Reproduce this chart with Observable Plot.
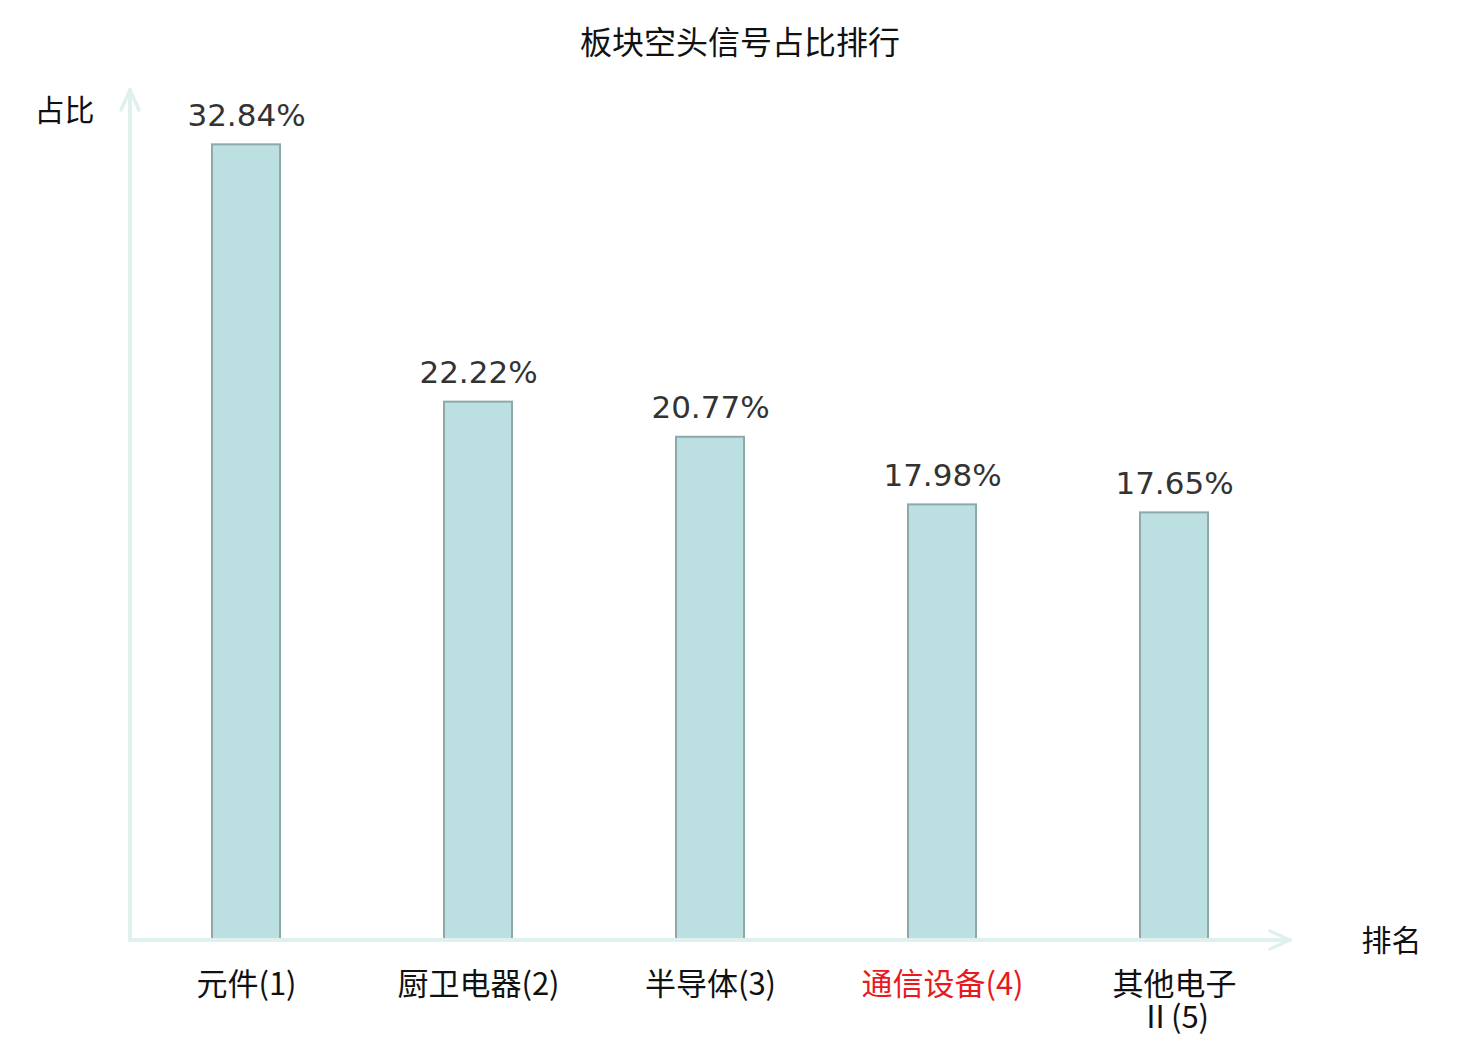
<!DOCTYPE html>
<html>
<head>
<meta charset="utf-8">
<script src="https://cdn.jsdelivr.net/npm/d3@7"></script>
<script src="https://cdn.jsdelivr.net/npm/@observablehq/plot@0.6"></script>
<style>
  html, body { margin: 0; padding: 0; background: #fff; }
  #title { height: 84px; line-height: 80px; text-align: center; font-family: "Noto Sans CJK SC", sans-serif; font-size: 32px; color: #111; }
  #chart svg { display: block; overflow: visible; }
</style>
</head>
<body>
<div id="title">板块空头信号占比排行</div>
<div id="chart"></div>
<script>
const categories = ["元件(1)", "厨卫电器(2)", "半导体(3)", "通信设备(4)", "其他电子\nⅡ(5)"];
const values = [32.84, 22.22, 20.77, 17.98, 17.65];
const highlighted = [false, false, false, true, false];
const yLabel = "占比";
const xLabel = "排名";

const data = categories.map((c, i) => ({ category: c, value: values[i], hl: highlighted[i] }));

const axisColor = "#dff1ef";

function arrowHeads(index, scales, vals, dims) {
  const g = d3.create("svg:g").attr("fill", "none").attr("stroke", axisColor)
    .attr("stroke-width", 3.5).attr("stroke-linecap", "round").attr("stroke-linejoin", "round");
  const x0 = dims.marginLeft, y0 = dims.height - dims.marginBottom;
  const xEnd = dims.width - dims.marginRight, yEnd = dims.marginTop;
  g.append("line").attr("x1", x0).attr("x2", x0).attr("y1", y0).attr("y2", yEnd - 2).attr("stroke-width", 4);
  g.append("line").attr("x1", x0).attr("x2", xEnd).attr("y1", y0).attr("y2", y0).attr("stroke-width", 4);
  g.append("polyline").attr("points", `${x0 - 9},${yEnd + 18} ${x0},${yEnd - 2} ${x0 + 9},${yEnd + 18}`);
  g.append("polyline").attr("points", `${xEnd - 20},${y0 - 9} ${xEnd},${y0} ${xEnd - 20},${y0 + 9}`);
  return g.node();
}

const chart = Plot.plot({
  width: 1480,
  height: 956,
  marginLeft: 130,
  marginRight: 190,
  marginTop: 8,
  marginBottom: 100,
  style: { fontFamily: "'DejaVu Sans', 'Noto Sans CJK SC', sans-serif", overflow: "visible" },
  x: { domain: categories, paddingInner: 0.707, paddingOuter: 0.3535, axis: null },
  y: { domain: [0, 35], axis: null },
  marks: [
    Plot.barY(data, { x: "category", y: "value", fill: "#bce0e2", stroke: "#8da9a9", strokeWidth: 2 }),
    Plot.text(data, { x: "category", y: "value", text: d => d.value.toFixed(2) + "%", dy: -19,
      lineAnchor: "bottom", fontSize: 31, fill: "#333" }),
    Plot.text(data, { x: "category", frameAnchor: "bottom", text: "category", dy: 31, lineAnchor: "top",
      lineHeight: 1.06, fontSize: 31, fontFamily: "'Noto Sans CJK SC', sans-serif",
      fill: d => d.hl ? "#e8191f" : "#111" }),
    arrowHeads,
    Plot.text([yLabel], { frameAnchor: "top-left", dx: -66, dy: 19, lineAnchor: "middle", textAnchor: "middle",
      fontSize: 30, fontFamily: "'Noto Sans CJK SC', sans-serif", fill: "#111" }),
    Plot.text([xLabel], { frameAnchor: "bottom-right", dx: 101, dy: 1, lineAnchor: "middle", textAnchor: "middle",
      fontSize: 30, fontFamily: "'Noto Sans CJK SC', sans-serif", fill: "#111" })
  ]
});
document.getElementById("chart").appendChild(chart);
</script>
</body>
</html>
